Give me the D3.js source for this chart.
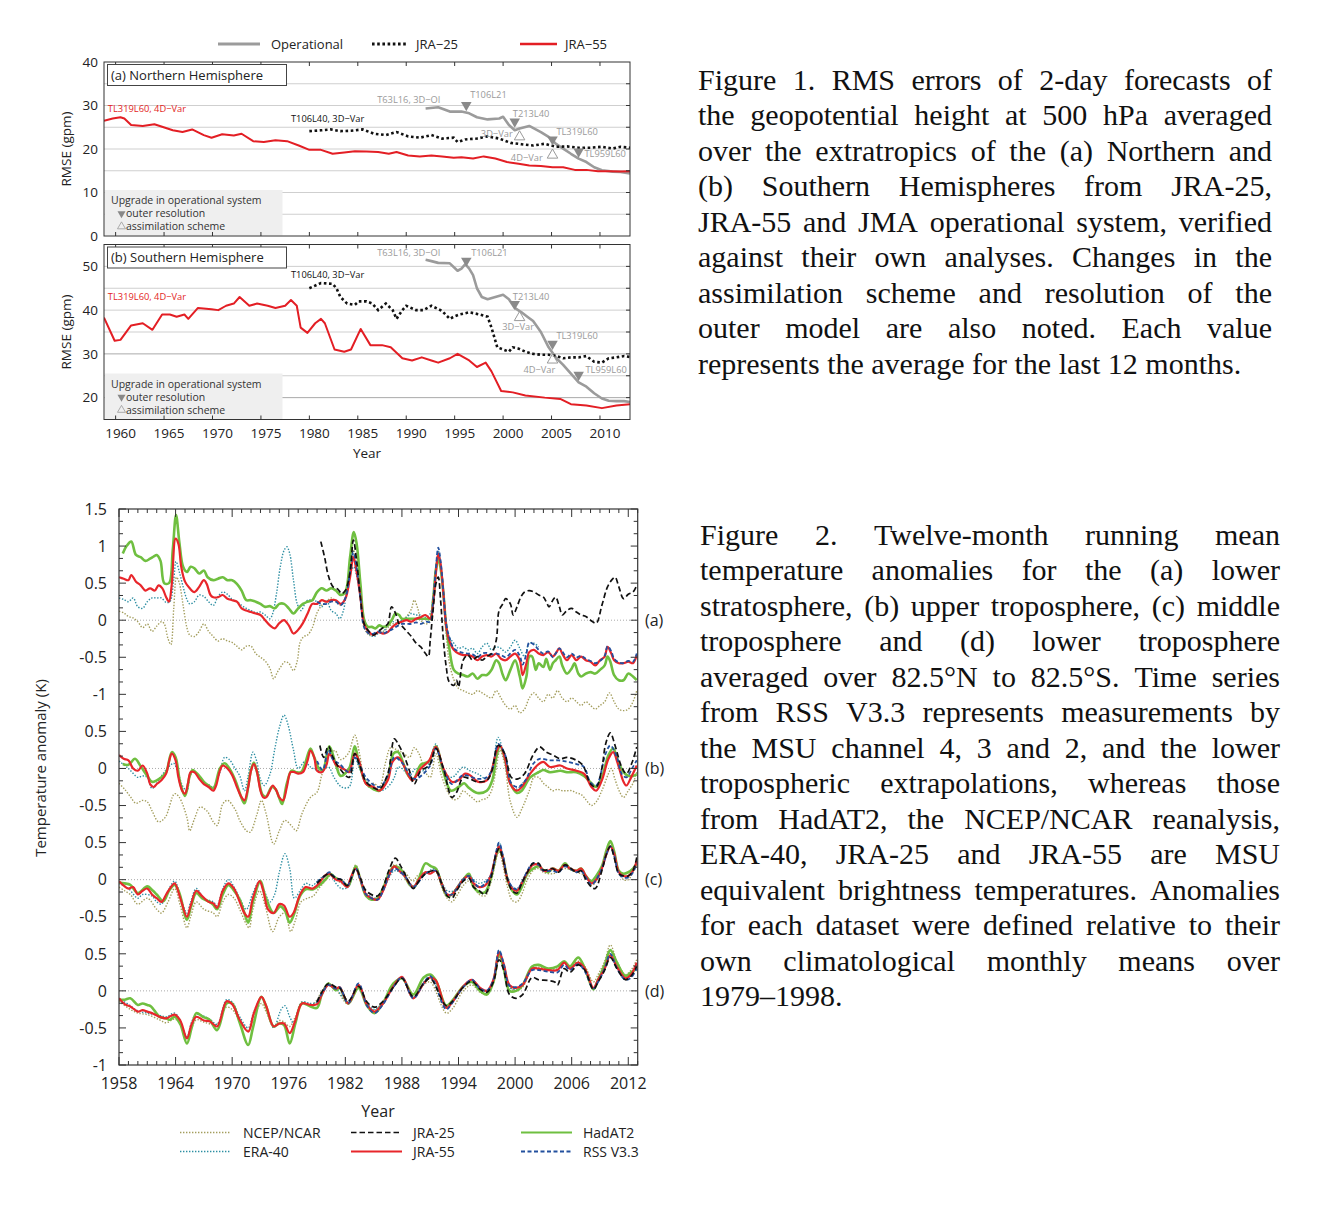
<!DOCTYPE html>
<html><head><meta charset="utf-8">
<script src="https://cdn.jsdelivr.net/npm/d3@7"></script>
<style>body{margin:0;background:#fff}svg{display:block}</style>
</head><body>
<svg id="c" width="1344" height="1208"></svg>
<script>
// ================= FIGURE 1 DATA (year, RMSE gpm) =================
const nh_JRA55 = [[1958.8,26.5],[1959.7,27.0],[1960.5,27.3],[1960.9,27.0],[1961.6,25.5],[1962.8,25.3],[1964.0,25.7],[1964.8,25.1],[1965.9,24.3],[1966.9,23.9],[1967.9,24.5],[1969.1,23.2],[1969.9,22.6],[1971.0,23.4],[1972.2,23.1],[1973.0,23.5],[1974.2,21.8],[1975.3,21.6],[1976.5,22.0],[1977.7,21.8],[1978.9,20.8],[1980.0,19.8],[1981.2,19.8],[1982.4,18.9],[1983.6,19.2],[1984.7,19.5],[1985.9,19.4],[1987.1,19.3],[1988.2,18.9],[1989.0,19.3],[1990.2,18.5],[1991.4,18.3],[1992.6,18.5],[1993.7,18.3],[1994.9,18.0],[1995.7,18.1],[1996.9,17.8],[1998.0,18.3],[1999.2,17.8],[2000.4,17.0],[2001.6,16.6],[2002.7,16.2],[2003.9,16.1],[2005.1,15.8],[2006.2,15.8],[2007.4,15.2],[2008.6,15.2],[2009.8,14.9],[2010.9,14.9],[2012.1,14.8],[2013.1,14.9]];
const nh_JRA25 = [[1980.0,24.1],[1981.2,24.3],[1982.2,24.5],[1983.2,24.1],[1984.3,24.2],[1985.5,24.5],[1986.7,23.5],[1987.9,23.2],[1989.0,23.9],[1990.2,22.9],[1991.4,22.6],[1992.6,23.2],[1993.7,22.4],[1994.9,22.6],[1995.3,21.6],[1996.1,22.2],[1997.3,22.4],[1998.4,22.9],[1999.6,22.4],[2000.8,21.4],[2001.9,21.1],[2003.1,20.8],[2004.3,21.2],[2005.5,20.5],[2006.6,20.6],[2007.8,20.3],[2009.0,20.3],[2010.2,20.5],[2011.3,20.1],[2012.1,20.5],[2013.1,20.3]];
const nh_Oper = [[1992.0,29.3],[1993.3,29.6],[1994.5,28.6],[1995.7,28.6],[1996.5,28.2],[1997.3,27.3],[1998.4,26.8],[1999.6,27.0],[2000.0,27.4],[2000.6,25.5],[2001.2,24.3],[2001.7,24.7],[2002.7,25.3],[2003.9,23.9],[2004.7,22.8],[2005.5,21.1],[2006.2,20.1],[2007.0,18.9],[2007.8,17.8],[2008.6,17.0],[2009.4,15.8],[2010.2,15.1],[2011.3,14.8],[2012.1,14.7],[2013.1,14.4]];
const sh_JRA55 = [[1958.8,38.3],[1959.9,33.0],[1960.5,33.2],[1961.6,36.5],[1962.8,37.0],[1963.8,35.5],[1964.8,39.0],[1965.6,39.0],[1966.3,38.5],[1967.1,39.0],[1967.5,38.0],[1968.5,40.5],[1969.9,40.2],[1970.6,40.0],[1971.4,41.0],[1972.2,41.5],[1972.8,43.0],[1973.8,41.0],[1974.6,41.5],[1975.7,41.0],[1976.5,40.5],[1977.5,41.0],[1978.1,42.3],[1978.7,41.0],[1979.1,36.0],[1979.8,34.8],[1980.6,37.0],[1981.2,38.0],[1981.6,37.0],[1982.6,31.0],[1983.6,30.5],[1984.3,31.0],[1985.3,35.7],[1986.3,32.0],[1987.5,32.0],[1988.4,31.5],[1989.6,29.0],[1990.6,28.5],[1991.6,29.2],[1992.6,28.5],[1993.3,28.0],[1994.5,29.0],[1995.3,30.0],[1996.5,28.5],[1997.3,27.0],[1998.2,28.0],[1998.8,26.0],[1999.8,21.5],[2001.0,21.2],[2002.3,20.5],[2004.3,20.0],[2005.9,19.7],[2007.0,18.5],[2008.6,18.2],[2010.2,17.6],[2011.7,18.2],[2013.1,18.5]];
const sh_JRA25 = [[1980.0,45.0],[1980.8,45.8],[1981.2,46.2],[1982.4,46.0],[1982.8,45.0],[1983.2,43.0],[1983.9,41.5],[1984.7,41.2],[1985.1,42.0],[1985.9,42.0],[1986.5,41.5],[1987.1,40.0],[1987.9,41.5],[1988.6,40.0],[1989.0,38.0],[1989.6,40.0],[1990.0,41.0],[1991.0,40.0],[1991.8,40.0],[1992.2,40.5],[1992.6,41.0],[1993.7,39.8],[1994.5,38.0],[1994.9,38.5],[1995.5,39.0],[1996.5,39.5],[1997.6,39.0],[1998.4,38.5],[1998.8,36.0],[1999.4,31.5],[2000.0,31.0],[2000.6,30.5],[2001.0,31.5],[2001.6,31.2],[2002.3,30.5],[2003.1,30.0],[2003.9,29.8],[2004.7,29.8],[2005.5,29.5],[2006.2,29.0],[2007.0,29.2],[2007.8,29.2],[2008.6,29.5],[2009.4,28.2],[2010.2,28.0],[2010.9,29.0],[2011.7,29.2],[2012.5,29.5],[2013.1,29.3]];
const sh_Oper = [[1992.0,51.5],[1992.6,51.2],[1993.3,50.8],[1994.5,50.7],[1995.3,49.0],[1995.7,49.5],[1996.1,50.5],[1996.5,49.5],[1996.9,48.0],[1997.3,45.0],[1997.8,43.0],[1998.4,42.5],[1999.2,43.0],[2000.0,43.5],[2000.6,42.5],[2001.2,40.5],[2001.9,39.5],[2002.5,38.5],[2003.1,37.5],[2003.9,35.0],[2004.7,31.5],[2005.5,29.0],[2006.2,27.5],[2007.0,25.5],[2007.8,23.5],[2008.6,22.5],[2009.4,21.0],[2010.2,19.8],[2010.9,19.3],[2011.7,19.2],[2012.5,19.2],[2013.1,19.0]];

// annotations: [year, value, text, series]
const ann_NH = [[1959.2,28.4,'TL319L60, 4D\u2212Var','j55'],[1978.1,26.3,'T106L40, 3D\u2212Var','j25'],[1987.0,30.6,'T63L16, 3D\u2212OI','op'],[1996.6,31.7,'T106L21','op'],[2001.0,27.3,'T213L40','op'],[1997.7,22.8,'3D\u2212Var','op'],[2005.5,23.2,'TL319L60','op'],[2000.8,17.3,'4D\u2212Var','op'],[2008.4,18.2,'TL959L60','op']];
const ann_SH = [[1959.2,42.3,'TL319L60, 4D\u2212Var','j55'],[1978.1,47.3,'T106L40, 3D\u2212Var','j25'],[1987.0,52.4,'T63L16, 3D\u2212OI','op'],[1996.7,52.4,'T106L21','op'],[2001.0,42.4,'T213L40','op'],[1999.9,35.5,'3D\u2212Var','op'],[2005.5,33.4,'TL319L60','op'],[2002.1,25.6,'4D\u2212Var','op'],[2008.5,25.6,'TL959L60','op']];
// system upgrade markers: [year, value, kind]
const mk_NH = [[1996.2,30.1,'res'],[2001.2,26.3,'res'],[2001.7,22.8,'scheme'],[2005.1,22.2,'res'],[2005.1,18.6,'scheme'],[2007.8,19.4,'res']];
const mk_SH = [[1996.2,51.3,'res'],[2001.2,41.4,'res'],[2001.7,38.3,'scheme'],[2005.1,32.3,'res'],[2005.1,28.6,'scheme'],[2007.8,25.2,'res']];
const fig1_xTicks = [1960,1965,1970,1975,1980,1985,1990,1995,2000,2005,2010];
const fig1_yTicksA = [0,10,20,30,40];
const fig1_yTicksB = [20,30,40,50];
const fig1_legend = ['Operational','JRA\u221225','JRA\u221255'];

// ================= FIGURE 2 DATA (year, anomaly K) =================
const a_NCEP = [[1958.0,0.12],[1958.5,0.10],[1959.0,0.05],[1959.5,0.03],[1960.0,-0.02],[1960.5,-0.10],[1961.0,-0.05],[1961.5,-0.15],[1962.0,-0.08],[1962.5,-0.02],[1962.8,-0.05],[1963.2,-0.25],[1963.5,-0.33],[1963.8,0.15],[1964.1,0.58],[1964.4,0.50],[1964.8,0.20],[1965.2,-0.10],[1965.5,-0.20],[1966.0,-0.22],[1966.5,-0.15],[1967.0,-0.05],[1967.5,-0.15],[1968.0,-0.22],[1968.5,-0.28],[1969.0,-0.25],[1969.5,-0.28],[1970.0,-0.30],[1970.5,-0.35],[1971.0,-0.40],[1971.5,-0.35],[1972.0,-0.35],[1972.5,-0.45],[1973.0,-0.50],[1973.5,-0.55],[1974.0,-0.65],[1974.4,-0.79],[1974.8,-0.70],[1975.2,-0.62],[1975.6,-0.56],[1976.0,-0.58],[1976.5,-0.68],[1976.9,-0.55],[1977.2,-0.30],[1977.6,-0.22],[1978.0,-0.20],[1978.5,-0.10],[1979.0,0.10],[1979.5,0.20],[1980.0,0.25],[1980.5,0.30],[1981.0,0.25],[1981.5,0.20],[1982.0,0.30],[1982.5,0.60],[1982.85,0.95],[1983.2,0.75],[1983.6,0.30],[1984.0,-0.10],[1984.5,-0.20],[1985.0,-0.20],[1985.5,-0.15],[1986.0,-0.15],[1986.5,-0.10],[1987.0,-0.05],[1987.5,-0.05],[1988.0,0.0],[1988.5,0.05],[1989.0,0.15],[1989.3,0.27],[1989.7,0.15],[1990.0,0.0],[1990.5,-0.05],[1991.0,-0.02],[1991.3,0.20],[1991.6,0.60],[1991.85,0.90],[1992.1,0.75],[1992.4,0.30],[1992.7,-0.20],[1993.0,-0.55],[1993.5,-0.80],[1994.0,-0.92],[1994.5,-0.95],[1995.0,-0.98],[1995.5,-1.00],[1996.0,-0.95],[1996.5,-0.98],[1997.0,-1.02],[1997.5,-1.05],[1998.0,-0.95],[1998.5,-1.05],[1999.0,-1.15],[1999.5,-1.20],[2000.0,-1.15],[2000.5,-1.25],[2001.0,-1.20],[2001.5,-1.05],[2002.0,-0.98],[2002.5,-1.05],[2003.0,-1.10],[2003.5,-1.00],[2004.0,-1.05],[2004.5,-0.95],[2005.0,-1.05],[2005.5,-1.10],[2006.0,-1.05],[2006.5,-1.10],[2007.0,-1.15],[2007.5,-1.10],[2008.0,-1.15],[2008.5,-1.20],[2009.0,-1.15],[2009.5,-1.10],[2010.0,-0.98],[2010.5,-1.10],[2011.0,-1.20],[2011.5,-1.22],[2012.0,-1.20],[2012.5,-1.10],[2012.9,-0.95]];
const a_ERA40 = [[1958.0,0.30],[1958.5,0.28],[1959.0,0.25],[1959.5,0.30],[1960.0,0.18],[1960.5,0.16],[1961.0,0.25],[1961.5,0.30],[1962.0,0.30],[1962.5,0.30],[1963.0,0.24],[1963.4,0.25],[1963.8,0.55],[1964.05,0.79],[1964.4,0.65],[1964.8,0.45],[1965.2,0.28],[1965.5,0.22],[1966.0,0.25],[1966.5,0.34],[1967.0,0.32],[1967.5,0.25],[1968.0,0.20],[1968.5,0.32],[1969.0,0.38],[1969.5,0.35],[1970.0,0.28],[1970.5,0.25],[1971.0,0.20],[1971.5,0.16],[1972.0,0.13],[1972.5,0.10],[1973.0,0.11],[1973.5,0.07],[1974.0,0.02],[1974.3,0.09],[1974.7,0.36],[1975.1,0.72],[1975.5,0.94],[1975.8,0.99],[1976.1,0.90],[1976.5,0.54],[1976.9,0.22],[1977.3,0.13],[1977.7,0.22],[1978.0,0.27],[1978.5,0.27],[1979.0,0.25],[1979.5,0.18],[1980.0,0.27],[1980.5,0.13],[1981.0,0.09],[1981.4,0.02],[1981.8,0.13],[1982.2,0.45],[1982.6,0.65],[1982.9,0.72],[1983.2,0.60],[1983.6,0.31],[1984.0,-0.04],[1984.5,-0.18],[1985.0,-0.22],[1985.5,-0.18],[1986.0,-0.16],[1986.5,-0.07],[1987.0,-0.02],[1987.5,-0.04],[1988.0,0.0],[1988.5,0.04],[1989.0,0.09],[1989.5,0.07],[1990.0,0.07],[1990.5,0.04],[1991.0,0.09],[1991.3,0.31],[1991.6,0.72],[1991.85,0.94],[1992.1,0.76],[1992.4,0.36],[1992.7,-0.04],[1993.0,-0.22],[1993.5,-0.31],[1994.0,-0.38],[1994.5,-0.36],[1995.0,-0.40],[1995.5,-0.38],[1996.0,-0.45],[1996.5,-0.36],[1997.0,-0.31],[1997.5,-0.40],[1998.0,-0.36],[1998.5,-0.38],[1999.0,-0.43],[1999.5,-0.36],[2000.0,-0.27],[2000.5,-0.38],[2001.0,-0.49],[2001.5,-0.31],[2002.0,-0.31],[2002.5,-0.36]];
const a_HadAT2 = [[1958.4,0.90],[1958.8,1.00],[1959.3,1.06],[1959.8,0.88],[1960.3,0.85],[1960.8,0.80],[1961.3,0.83],[1961.7,0.86],[1962.0,0.88],[1962.4,0.80],[1962.8,0.50],[1963.3,0.50],[1963.7,0.95],[1964.05,1.42],[1964.4,1.05],[1964.8,0.72],[1965.2,0.65],[1965.6,0.72],[1966.0,0.70],[1966.5,0.63],[1967.0,0.67],[1967.4,0.58],[1968.0,0.54],[1968.5,0.56],[1969.0,0.58],[1969.5,0.54],[1970.0,0.54],[1970.5,0.49],[1971.0,0.40],[1971.5,0.27],[1972.0,0.27],[1972.5,0.25],[1973.0,0.22],[1973.5,0.18],[1974.0,0.19],[1974.5,0.16],[1975.0,0.22],[1975.5,0.22],[1976.0,0.16],[1976.5,0.09],[1977.0,0.16],[1977.5,0.22],[1978.0,0.25],[1978.5,0.27],[1979.0,0.38],[1979.5,0.43],[1980.0,0.40],[1980.5,0.43],[1981.0,0.40],[1981.5,0.34],[1982.0,0.38],[1982.5,0.85],[1982.9,1.19],[1983.2,1.03],[1983.6,0.49],[1984.0,0.0],[1984.4,-0.09],[1984.8,-0.09],[1985.2,-0.11],[1985.6,-0.07],[1986.0,-0.09],[1986.5,-0.07],[1987.0,0.02],[1987.3,0.09],[1987.7,0.07],[1988.0,0.02],[1988.5,0.02],[1989.0,0.02],[1989.5,0.02],[1990.0,0.02],[1990.5,0.02],[1991.0,0.02],[1991.3,0.27],[1991.6,0.68],[1991.85,0.83],[1992.1,0.70],[1992.4,0.36],[1992.7,-0.09],[1993.0,-0.36],[1993.5,-0.67],[1994.0,-0.72],[1994.5,-0.74],[1995.0,-0.76],[1995.5,-0.72],[1996.0,-0.79],[1996.5,-0.74],[1997.0,-0.74],[1997.5,-0.67],[1998.0,-0.54],[1998.3,-0.58],[1998.7,-0.74],[1999.0,-0.81],[1999.5,-0.67],[2000.0,-0.54],[2000.5,-0.76],[2000.8,-0.92],[2001.2,-0.76],[2001.5,-0.49],[2001.8,-0.49],[2002.2,-0.67],[2002.5,-0.58],[2003.0,-0.63],[2003.3,-0.52],[2003.7,-0.67],[2004.0,-0.58],[2004.3,-0.54],[2004.7,-0.49],[2005.0,-0.61],[2005.5,-0.72],[2006.0,-0.65],[2006.3,-0.58],[2006.7,-0.72],[2007.0,-0.76],[2007.5,-0.72],[2008.0,-0.70],[2008.5,-0.72],[2009.0,-0.67],[2009.5,-0.61],[2009.8,-0.49],[2010.1,-0.56],[2010.5,-0.74],[2011.0,-0.81],[2011.5,-0.81],[2012.0,-0.72],[2012.5,-0.76],[2012.9,-0.81]];
const a_JRA55 = [[1958.0,0.58],[1958.5,0.56],[1959.0,0.54],[1959.3,0.61],[1959.8,0.52],[1960.3,0.47],[1960.8,0.40],[1961.3,0.43],[1961.8,0.40],[1962.2,0.47],[1962.6,0.43],[1963.0,0.31],[1963.3,0.25],[1963.6,0.49],[1964.0,1.10],[1964.3,1.03],[1964.6,0.72],[1965.0,0.52],[1965.5,0.43],[1966.0,0.38],[1966.5,0.45],[1967.0,0.54],[1967.3,0.49],[1967.7,0.34],[1968.0,0.31],[1968.5,0.31],[1969.0,0.34],[1969.5,0.29],[1970.0,0.27],[1970.5,0.25],[1971.0,0.16],[1971.5,0.13],[1972.0,0.11],[1972.5,0.09],[1973.0,0.07],[1973.5,0.0],[1974.0,-0.07],[1974.5,-0.11],[1975.0,-0.04],[1975.5,0.0],[1976.0,-0.07],[1976.5,-0.18],[1977.0,-0.13],[1977.5,-0.04],[1978.0,0.09],[1978.5,0.22],[1979.0,0.22],[1979.5,0.27],[1980.0,0.25],[1980.5,0.27],[1981.0,0.27],[1981.5,0.22],[1982.0,0.29],[1982.5,0.58],[1982.85,0.85],[1983.2,0.65],[1983.6,0.31],[1984.0,-0.06],[1984.5,-0.16],[1985.0,-0.20],[1985.5,-0.16],[1986.0,-0.18],[1986.5,-0.16],[1987.0,-0.09],[1987.5,-0.04],[1988.0,-0.02],[1988.5,0.0],[1989.0,-0.02],[1989.5,0.02],[1990.0,0.04],[1990.5,0.07],[1991.0,0.02],[1991.3,0.22],[1991.6,0.63],[1991.85,0.90],[1992.1,0.76],[1992.4,0.36],[1992.7,-0.09],[1993.0,-0.27],[1993.5,-0.40],[1994.0,-0.45],[1994.5,-0.47],[1995.0,-0.47],[1995.5,-0.49],[1996.0,-0.54],[1996.5,-0.49],[1997.0,-0.47],[1997.5,-0.49],[1998.0,-0.45],[1998.5,-0.52],[1999.0,-0.54],[1999.5,-0.49],[2000.0,-0.45],[2000.5,-0.54],[2000.8,-0.74],[2001.2,-0.58],[2001.5,-0.43],[2002.0,-0.40],[2002.5,-0.45],[2003.0,-0.47],[2003.5,-0.43],[2004.0,-0.49],[2004.3,-0.45],[2004.7,-0.38],[2005.0,-0.45],[2005.5,-0.54],[2006.0,-0.47],[2006.5,-0.54],[2007.0,-0.49],[2007.5,-0.54],[2008.0,-0.56],[2008.5,-0.61],[2009.0,-0.54],[2009.5,-0.49],[2009.8,-0.36],[2010.2,-0.45],[2010.5,-0.54],[2011.0,-0.58],[2011.5,-0.58],[2012.0,-0.56],[2012.5,-0.58],[2012.9,-0.47]];
const a_RSS = [[1979.0,0.25],[1979.5,0.22],[1980.0,0.22],[1980.5,0.25],[1981.0,0.25],[1981.5,0.20],[1982.0,0.30],[1982.5,0.65],[1982.85,0.92],[1983.2,0.70],[1983.6,0.30],[1984.0,-0.10],[1984.5,-0.18],[1985.0,-0.18],[1985.5,-0.15],[1986.0,-0.18],[1986.5,-0.15],[1987.0,-0.12],[1987.5,-0.08],[1988.0,-0.05],[1988.5,-0.05],[1989.0,-0.05],[1989.5,-0.03],[1990.0,-0.05],[1990.5,-0.02],[1991.0,-0.02],[1991.3,0.25],[1991.6,0.70],[1991.85,0.98],[1992.1,0.80],[1992.4,0.38],[1992.7,-0.05],[1993.0,-0.22],[1993.5,-0.38],[1994.0,-0.42],[1994.5,-0.44],[1995.0,-0.45],[1995.5,-0.46],[1996.0,-0.50],[1996.5,-0.45],[1997.0,-0.44],[1997.5,-0.46],[1998.0,-0.45],[1998.5,-0.47],[1999.0,-0.50],[1999.5,-0.45],[2000.0,-0.40],[2000.5,-0.48],[2000.8,-0.60],[2001.2,-0.45],[2001.5,-0.30],[2002.0,-0.33],[2002.5,-0.40],[2003.0,-0.45],[2003.5,-0.42],[2004.0,-0.50],[2004.3,-0.45],[2004.7,-0.38],[2005.0,-0.42],[2005.5,-0.50],[2006.0,-0.45],[2006.5,-0.50],[2007.0,-0.48],[2007.5,-0.52],[2008.0,-0.55],[2008.5,-0.58],[2009.0,-0.55],[2009.5,-0.48],[2009.8,-0.35],[2010.2,-0.42],[2010.5,-0.52],[2011.0,-0.57],[2011.5,-0.58],[2012.0,-0.55],[2012.5,-0.56],[2012.9,-0.45]];
const a_JRA25 = [[1979.4,1.06],[1979.8,0.85],[1980.2,0.60],[1980.7,0.45],[1981.2,0.42],[1981.6,0.36],[1982.0,0.40],[1982.5,0.65],[1982.85,1.08],[1983.2,0.80],[1983.6,0.30],[1984.0,-0.05],[1984.5,-0.15],[1985.0,-0.20],[1985.5,-0.15],[1986.0,-0.10],[1986.5,-0.05],[1986.9,0.18],[1987.3,0.10],[1987.7,-0.05],[1988.0,-0.08],[1988.5,-0.15],[1989.0,-0.22],[1989.5,-0.31],[1990.0,-0.36],[1990.5,-0.45],[1990.8,-0.49],[1991.0,-0.27],[1991.3,0.13],[1991.6,0.49],[1991.85,0.58],[1992.1,0.27],[1992.4,-0.27],[1992.7,-0.63],[1993.0,-0.83],[1993.5,-0.88],[1993.8,-0.81],[1994.0,-0.90],[1994.5,-0.54],[1995.0,-0.47],[1995.5,-0.54],[1996.0,-0.49],[1996.5,-0.54],[1997.0,-0.49],[1997.5,-0.45],[1998.0,-0.27],[1998.3,0.13],[1998.7,0.22],[1999.0,0.29],[1999.5,0.22],[1999.8,0.07],[2000.2,0.18],[2000.6,0.31],[2001.0,0.38],[2001.5,0.40],[2002.0,0.38],[2002.5,0.34],[2003.0,0.31],[2003.3,0.25],[2003.6,0.18],[2004.0,0.27],[2004.3,0.31],[2004.7,0.18],[2005.0,0.07],[2005.5,0.13],[2006.0,0.16],[2006.5,0.11],[2007.0,0.07],[2007.5,0.05],[2008.0,0.0],[2008.6,-0.04],[2009.2,0.20],[2009.8,0.45],[2010.3,0.55],[2010.6,0.58],[2011.0,0.45],[2011.5,0.29],[2012.0,0.35],[2012.5,0.38],[2012.9,0.47]];

const b_NCEP = [[1958.0,-0.20],[1958.6,-0.28],[1959.2,-0.38],[1959.8,-0.47],[1960.5,-0.43],[1961.0,-0.45],[1961.5,-0.57],[1962.2,-0.72],[1962.9,-0.66],[1963.9,-0.34],[1964.4,-0.39],[1965.2,-0.66],[1965.5,-0.84],[1966.0,-0.68],[1966.6,-0.52],[1967.3,-0.57],[1968.0,-0.72],[1968.4,-0.77],[1969.0,-0.48],[1969.5,-0.43],[1970.3,-0.55],[1970.8,-0.70],[1971.5,-0.84],[1971.9,-0.86],[1972.6,-0.63],[1973.1,-0.43],[1973.6,-0.61],[1974.4,-1.02],[1975.0,-0.84],[1975.6,-0.70],[1976.4,-0.79],[1976.8,-0.84],[1977.4,-0.61],[1978.3,-0.39],[1979.0,-0.32],[1979.5,-0.09],[1980.2,0.15],[1980.9,0.24],[1981.5,0.12],[1982.3,0.20],[1983.0,0.45],[1983.5,0.20],[1984.0,-0.15],[1984.5,-0.25],[1985.0,-0.20],[1985.6,-0.25],[1986.3,0.10],[1986.8,0.28],[1987.5,0.25],[1988.2,0.20],[1988.8,0.15],[1989.3,0.28],[1989.8,0.20],[1990.5,-0.05],[1991.0,-0.12],[1991.6,0.20],[1992.2,-0.10],[1993.0,-0.35],[1993.5,-0.42],[1994.0,-0.40],[1994.5,-0.30],[1995.0,-0.35],[1995.5,-0.40],[1996.0,-0.45],[1996.5,-0.42],[1997.0,-0.40],[1997.5,-0.30],[1998.0,0.0],[1998.4,0.25],[1998.9,0.05],[1999.5,-0.45],[2000.2,-0.66],[2000.7,-0.55],[2001.5,-0.30],[2002.0,-0.12],[2002.5,-0.12],[2003.0,-0.20],[2003.5,-0.25],[2004.0,-0.30],[2004.5,-0.28],[2005.0,-0.30],[2005.5,-0.30],[2006.0,-0.30],[2006.5,-0.33],[2007.0,-0.35],[2007.5,-0.42],[2008.1,-0.50],[2008.6,-0.45],[2009.2,-0.30],[2009.9,-0.07],[2010.2,0.0],[2010.6,-0.15],[2011.1,-0.32],[2011.5,-0.39],[2012.0,-0.30],[2012.5,-0.20],[2012.9,-0.05]];
const b_ERA40 = [[1958.0,0.10],[1959.0,0.0],[1960.0,-0.12],[1960.5,-0.10],[1961.0,-0.12],[1961.5,-0.27],[1962.0,-0.20],[1962.5,-0.10],[1963.0,-0.02],[1963.5,0.05],[1963.8,0.07],[1964.3,-0.08],[1964.8,-0.25],[1965.2,-0.30],[1965.6,-0.08],[1966.0,-0.05],[1966.5,-0.12],[1967.0,-0.20],[1967.5,-0.22],[1968.0,-0.25],[1968.7,-0.05],[1969.2,0.15],[1969.7,0.12],[1970.3,0.0],[1970.8,-0.10],[1971.3,-0.30],[1971.7,-0.10],[1972.2,0.22],[1972.6,0.10],[1973.0,-0.15],[1973.4,-0.23],[1974.0,-0.08],[1974.5,0.25],[1975.0,0.55],[1975.5,0.72],[1975.9,0.60],[1976.5,0.25],[1977.0,0.0],[1977.7,0.09],[1978.3,0.02],[1979.3,-0.03],[1980.2,0.02],[1980.8,-0.12],[1981.6,-0.25],[1982.4,-0.25],[1983.0,0.15],[1983.5,0.0],[1984.2,-0.16],[1985.6,-0.30],[1986.5,-0.25],[1987.2,-0.12],[1987.6,0.02],[1988.0,0.0],[1988.8,-0.09],[1989.5,0.0],[1990.3,-0.03],[1990.9,0.08],[1991.6,0.33],[1992.4,-0.03],[1993.3,-0.12],[1994.5,0.02],[1995.2,-0.03],[1996.0,-0.07],[1997.0,-0.14],[1997.6,0.02],[1998.2,0.42],[1998.7,0.24],[1999.5,-0.21],[2000.1,-0.28],[2001.1,-0.16],[2001.9,-0.09],[2002.6,-0.05]];
const b_HadAT2 = [[1958.4,0.06],[1959.0,0.05],[1959.7,0.13],[1960.3,0.03],[1961.0,-0.10],[1961.5,-0.18],[1962.0,-0.16],[1962.5,-0.12],[1963.0,-0.05],[1963.6,0.22],[1964.0,0.15],[1964.5,-0.20],[1965.0,-0.37],[1965.5,-0.10],[1965.8,-0.02],[1966.5,-0.10],[1967.0,-0.18],[1967.5,-0.23],[1968.0,-0.27],[1968.7,0.0],[1969.2,0.07],[1969.7,0.0],[1970.3,-0.15],[1971.0,-0.40],[1971.3,-0.47],[1972.0,-0.02],[1972.3,0.08],[1972.7,-0.08],[1973.2,-0.35],[1973.6,-0.38],[1974.2,-0.25],[1974.6,-0.28],[1975.0,-0.40],[1975.3,-0.48],[1975.8,-0.20],[1976.3,-0.03],[1976.8,-0.05],[1977.3,-0.05],[1977.7,0.05],[1978.3,0.27],[1978.7,0.15],[1979.2,0.0],[1979.6,-0.03],[1980.3,0.30],[1981.0,0.05],[1981.5,-0.10],[1982.4,0.0],[1983.0,0.30],[1983.4,0.10],[1984.2,-0.20],[1985.0,-0.28],[1985.6,-0.30],[1986.5,-0.12],[1987.1,0.20],[1987.6,0.22],[1988.2,0.05],[1988.7,-0.10],[1989.2,-0.15],[1990.0,0.05],[1990.9,0.10],[1991.6,0.30],[1992.4,-0.05],[1993.2,-0.30],[1994.0,-0.25],[1994.6,-0.20],[1995.0,-0.25],[1996.0,-0.33],[1997.0,-0.30],[1997.6,-0.15],[1998.0,0.15],[1998.4,0.30],[1998.9,0.15],[1999.5,-0.20],[2000.2,-0.33],[2000.7,-0.30],[2001.6,-0.12],[2002.5,-0.05],[2003.0,-0.02],[2003.7,-0.05],[2004.8,-0.03],[2005.5,-0.05],[2006.5,-0.05],[2007.3,-0.10],[2008.1,-0.20],[2008.6,-0.25],[2009.2,-0.12],[2009.9,0.18],[2010.4,0.27],[2010.9,0.10],[2011.5,-0.05],[2012.0,-0.10],[2012.5,-0.10],[2012.9,-0.08]];
const b_JRA55 = [[1958.0,0.18],[1958.5,0.13],[1959.0,0.11],[1959.5,0.0],[1960.0,-0.03],[1960.5,0.04],[1961.0,-0.07],[1961.3,-0.21],[1961.7,-0.25],[1962.0,-0.21],[1962.5,-0.16],[1963.0,-0.07],[1963.3,0.09],[1963.6,0.20],[1964.0,0.11],[1964.3,-0.12],[1964.7,-0.30],[1965.0,-0.34],[1965.3,-0.21],[1965.6,-0.05],[1966.0,-0.05],[1966.5,-0.14],[1967.0,-0.21],[1967.5,-0.25],[1968.0,-0.30],[1968.3,-0.23],[1968.7,-0.03],[1969.0,0.04],[1969.5,0.0],[1970.0,-0.09],[1970.5,-0.25],[1971.0,-0.39],[1971.3,-0.43],[1971.7,-0.25],[1972.0,-0.03],[1972.3,0.06],[1972.6,-0.03],[1973.0,-0.30],[1973.3,-0.39],[1973.6,-0.39],[1974.0,-0.30],[1974.3,-0.23],[1974.7,-0.30],[1975.0,-0.39],[1975.4,-0.43],[1975.8,-0.25],[1976.2,-0.05],[1976.6,-0.05],[1977.0,-0.07],[1977.5,-0.05],[1978.0,0.11],[1978.3,0.24],[1978.7,0.15],[1979.0,-0.03],[1979.5,-0.05],[1980.0,0.05],[1980.3,0.20],[1980.6,0.15],[1981.0,0.05],[1981.4,0.02],[1982.0,-0.02],[1982.4,-0.05],[1983.0,0.20],[1983.4,0.12],[1984.2,-0.21],[1985.0,-0.25],[1985.6,-0.30],[1986.5,-0.16],[1987.0,0.09],[1987.6,0.15],[1988.0,0.09],[1988.6,-0.07],[1989.1,-0.16],[1990.0,0.0],[1990.9,0.11],[1991.6,0.29],[1992.4,0.0],[1993.3,-0.18],[1994.0,-0.16],[1994.7,-0.07],[1995.2,-0.09],[1996.1,-0.18],[1997.0,-0.16],[1997.5,-0.03],[1998.0,0.22],[1998.4,0.31],[1998.9,0.15],[1999.5,-0.21],[2000.2,-0.30],[2000.7,-0.25],[2001.6,-0.07],[2002.5,0.06],[2003.0,0.09],[2003.7,0.02],[2004.8,0.04],[2005.5,0.0],[2006.5,-0.03],[2007.3,-0.07],[2008.1,-0.25],[2008.6,-0.30],[2009.2,-0.16],[2009.9,0.13],[2010.4,0.22],[2010.9,0.06],[2011.5,-0.18],[2011.8,-0.23],[2012.3,-0.12],[2012.9,0.04]];
const b_RSS = [[1979.0,0.10],[1979.6,-0.02],[1980.2,0.25],[1980.7,0.12],[1981.4,0.06],[1982.4,-0.05],[1983.0,0.15],[1983.5,0.05],[1984.3,-0.14],[1985.6,-0.25],[1986.5,-0.10],[1987.2,0.15],[1988.0,0.08],[1989.3,-0.14],[1990.9,0.02],[1991.6,0.27],[1992.4,0.0],[1993.3,-0.21],[1994.5,-0.09],[1996.0,-0.14],[1997.0,-0.12],[1997.6,0.0],[1998.2,0.33],[1998.9,0.20],[1999.6,-0.20],[2000.3,-0.25],[2001.1,-0.16],[2001.9,0.06],[2002.6,0.13],[2003.6,0.11],[2004.6,0.11],[2005.5,0.09],[2006.5,0.06],[2007.3,0.02],[2008.0,-0.19],[2008.6,-0.23],[2009.6,0.20],[2010.1,0.31],[2010.8,0.15],[2011.3,-0.07],[2011.8,-0.12],[2012.4,0.0],[2012.9,0.11]];
const b_JRA25 = [[1979.3,0.31],[1979.7,0.15],[1980.2,0.30],[1980.7,0.15],[1981.4,0.0],[1982.4,-0.12],[1983.0,0.20],[1983.5,0.05],[1984.2,-0.18],[1985.0,-0.26],[1985.6,-0.28],[1986.5,-0.07],[1987.2,0.40],[1987.6,0.33],[1988.2,0.18],[1988.8,-0.03],[1989.3,-0.21],[1990.0,-0.03],[1990.9,0.04],[1991.6,0.27],[1992.4,0.0],[1993.3,-0.39],[1993.8,-0.32],[1994.5,-0.12],[1995.2,-0.14],[1996.0,-0.18],[1997.0,-0.16],[1997.5,-0.05],[1998.2,0.31],[1998.9,0.20],[1999.6,-0.12],[2000.3,-0.14],[2001.0,-0.07],[2001.9,0.18],[2002.6,0.29],[2003.3,0.22],[2004.0,0.18],[2004.8,0.13],[2005.5,0.15],[2006.5,0.11],[2007.2,0.04],[2008.0,-0.21],[2008.6,-0.25],[2009.2,0.0],[2009.6,0.33],[2010.1,0.48],[2010.6,0.31],[2011.3,0.02],[2011.8,-0.07],[2012.4,0.08],[2012.9,0.29]];

const c_NCEP = [[1958.0,-0.10],[1958.6,-0.15],[1959.2,-0.20],[1960.0,-0.33],[1961.0,-0.25],[1962.0,-0.40],[1962.5,-0.45],[1963.2,-0.30],[1963.9,-0.12],[1964.5,-0.35],[1965.2,-0.65],[1965.6,-0.50],[1966.2,-0.30],[1967.0,-0.40],[1968.0,-0.45],[1968.4,-0.50],[1969.0,-0.30],[1969.6,-0.20],[1970.2,-0.25],[1970.8,-0.40],[1971.5,-0.60],[1971.8,-0.65],[1972.2,-0.40],[1972.9,-0.15],[1973.5,-0.35],[1974.3,-0.70],[1975.0,-0.50],[1975.6,-0.45],[1976.2,-0.70],[1976.7,-0.55],[1977.3,-0.30],[1978.0,-0.25],[1978.6,-0.22],[1979.3,-0.10],[1980.0,0.0],[1980.4,0.05],[1981.0,0.0],[1981.6,-0.05],[1982.3,-0.10],[1983.1,0.20],[1983.6,0.0],[1984.2,-0.20],[1985.4,-0.27],[1986.0,-0.12],[1986.6,0.08],[1987.2,0.20],[1988.3,0.10],[1989.2,-0.02],[1989.6,0.05],[1990.5,0.10],[1991.6,0.10],[1992.2,-0.10],[1992.8,-0.25],[1993.3,-0.30],[1993.8,-0.22],[1994.5,-0.08],[1995.1,-0.02],[1996.2,-0.20],[1996.8,-0.22],[1997.4,-0.05],[1998.3,0.38],[1998.7,0.20],[1999.2,-0.10],[1999.7,-0.28],[2000.2,-0.30],[2000.7,-0.20],[2001.3,0.0],[2001.9,0.12],[2002.5,0.15],[2003.0,0.10],[2004.0,0.08],[2005.3,0.15],[2006.5,0.10],[2007.5,0.05],[2008.1,-0.08],[2008.6,-0.02],[2009.2,0.15],[2010.1,0.50],[2010.5,0.38],[2011.0,0.10],[2011.5,0.0],[2012.0,0.0],[2012.5,0.10],[2012.9,0.20]];
const c_ERA40 = [[1958.0,-0.05],[1959.0,-0.12],[1960.0,-0.25],[1960.5,-0.20],[1961.5,-0.22],[1962.0,-0.30],[1962.5,-0.33],[1963.0,-0.20],[1963.9,-0.02],[1964.5,-0.22],[1965.2,-0.45],[1965.6,-0.30],[1966.2,-0.12],[1967.0,-0.25],[1968.0,-0.30],[1968.4,-0.35],[1969.0,-0.12],[1969.6,0.0],[1970.2,-0.10],[1970.8,-0.25],[1971.5,-0.40],[1972.2,-0.18],[1972.9,-0.02],[1973.4,-0.15],[1974.0,-0.30],[1974.5,-0.20],[1975.0,0.10],[1975.6,0.35],[1976.1,0.15],[1976.6,-0.25],[1977.2,-0.15],[1977.8,-0.05],[1978.5,-0.08],[1979.2,0.0],[1980.3,0.08],[1981.0,-0.05],[1981.6,-0.12],[1982.3,-0.10],[1983.1,0.15],[1983.6,0.0],[1984.2,-0.18],[1985.4,-0.25],[1986.0,-0.15],[1986.6,0.02],[1987.2,0.12],[1988.3,0.05],[1989.2,-0.08],[1990.5,0.08],[1991.6,0.15],[1992.2,-0.02],[1992.8,-0.15],[1993.5,-0.15],[1994.5,0.02],[1995.1,0.05],[1996.2,-0.05],[1997.4,0.05],[1998.3,0.50],[1998.7,0.32],[1999.4,-0.05],[2000.2,-0.12],[2001.0,0.05],[2001.9,0.15],[2002.6,0.18]];
const c_HadAT2 = [[1958.0,-0.04],[1958.6,-0.05],[1959.2,-0.07],[1960.0,-0.18],[1961.0,-0.09],[1961.6,-0.15],[1962.0,-0.20],[1962.7,-0.29],[1963.3,-0.15],[1963.9,-0.07],[1964.4,-0.18],[1965.2,-0.54],[1965.6,-0.38],[1966.2,-0.18],[1966.8,-0.25],[1967.6,-0.30],[1968.0,-0.34],[1968.4,-0.40],[1969.0,-0.20],[1969.6,-0.07],[1970.1,-0.13],[1970.8,-0.27],[1971.3,-0.45],[1971.7,-0.58],[1972.2,-0.30],[1973.0,-0.02],[1973.5,-0.22],[1974.4,-0.45],[1975.1,-0.36],[1975.6,-0.42],[1976.1,-0.58],[1976.6,-0.45],[1977.2,-0.22],[1977.8,-0.13],[1978.6,-0.13],[1979.3,-0.07],[1980.0,0.02],[1980.4,0.08],[1981.0,0.02],[1981.6,-0.02],[1982.3,-0.08],[1982.6,0.0],[1983.1,0.18],[1983.6,0.0],[1984.2,-0.22],[1984.8,-0.27],[1985.4,-0.25],[1986.0,-0.12],[1986.6,0.08],[1987.2,0.18],[1987.8,0.15],[1988.3,0.05],[1988.9,-0.08],[1989.3,-0.10],[1989.9,0.05],[1990.5,0.22],[1991.1,0.18],[1991.6,0.15],[1992.2,-0.05],[1992.8,-0.22],[1993.3,-0.20],[1993.8,-0.12],[1994.5,0.0],[1995.1,0.08],[1995.6,-0.10],[1996.2,-0.17],[1996.8,-0.17],[1997.4,0.0],[1998.0,0.33],[1998.3,0.42],[1998.7,0.30],[1999.2,0.0],[1999.7,-0.15],[2000.2,-0.20],[2000.7,-0.10],[2001.3,0.08],[2001.9,0.15],[2002.5,0.18],[2003.0,0.13],[2003.5,0.10],[2004.0,0.15],[2004.6,0.12],[2005.3,0.22],[2005.8,0.15],[2006.5,0.12],[2007.0,0.15],[2007.5,0.05],[2008.1,-0.02],[2008.6,0.05],[2009.2,0.18],[2009.7,0.40],[2010.1,0.52],[2010.5,0.38],[2011.0,0.12],[2011.5,0.08],[2012.0,0.10],[2012.5,0.15],[2012.9,0.22]];
const c_JRA55 = [[1958.0,-0.02],[1958.5,-0.08],[1959.0,-0.12],[1959.5,-0.10],[1960.0,-0.20],[1960.5,-0.15],[1961.0,-0.12],[1961.5,-0.20],[1962.0,-0.25],[1962.5,-0.30],[1963.0,-0.20],[1963.5,-0.10],[1963.9,-0.05],[1964.5,-0.25],[1965.2,-0.50],[1965.6,-0.35],[1966.2,-0.15],[1966.8,-0.22],[1967.5,-0.30],[1968.0,-0.32],[1968.4,-0.38],[1969.0,-0.15],[1969.6,-0.05],[1970.2,-0.12],[1970.8,-0.30],[1971.3,-0.45],[1971.7,-0.50],[1972.2,-0.25],[1972.9,-0.02],[1973.3,-0.15],[1973.8,-0.40],[1974.4,-0.45],[1975.0,-0.33],[1975.5,-0.35],[1976.1,-0.50],[1976.5,-0.45],[1977.2,-0.20],[1977.8,-0.10],[1978.5,-0.12],[1979.2,-0.05],[1979.8,0.05],[1980.3,0.08],[1981.0,0.0],[1981.5,-0.02],[1982.2,-0.10],[1982.5,0.0],[1983.1,0.15],[1983.6,0.0],[1984.2,-0.20],[1984.8,-0.25],[1985.4,-0.27],[1986.0,-0.15],[1986.6,0.05],[1987.2,0.18],[1987.7,0.12],[1988.3,0.05],[1988.8,-0.05],[1989.2,-0.10],[1989.8,0.0],[1990.5,0.10],[1991.0,0.08],[1991.6,0.12],[1992.2,-0.05],[1992.8,-0.20],[1993.3,-0.20],[1993.8,-0.12],[1994.5,0.0],[1995.1,0.05],[1995.6,-0.05],[1996.2,-0.10],[1996.8,-0.08],[1997.4,0.05],[1998.0,0.35],[1998.3,0.45],[1998.7,0.30],[1999.2,0.0],[1999.7,-0.12],[2000.2,-0.15],[2000.7,-0.05],[2001.3,0.10],[2001.9,0.20],[2002.5,0.20],[2003.0,0.12],[2003.5,0.12],[2004.0,0.15],[2004.6,0.12],[2005.3,0.20],[2005.8,0.15],[2006.5,0.12],[2007.0,0.15],[2007.5,0.05],[2008.1,-0.05],[2008.6,0.0],[2009.2,0.15],[2009.7,0.35],[2010.1,0.45],[2010.5,0.35],[2011.0,0.10],[2011.5,0.05],[2012.0,0.05],[2012.5,0.12],[2012.9,0.25]];
const c_RSS = [[1979.0,-0.03],[1979.8,0.05],[1980.3,0.10],[1981.0,0.02],[1981.6,0.0],[1982.2,-0.08],[1983.1,0.15],[1983.6,0.0],[1984.2,-0.20],[1985.4,-0.27],[1986.0,-0.15],[1986.6,0.05],[1987.2,0.15],[1988.3,0.05],[1989.2,-0.10],[1990.5,0.08],[1991.6,0.12],[1992.2,-0.05],[1992.8,-0.20],[1993.3,-0.20],[1994.5,0.0],[1995.1,0.05],[1996.2,-0.10],[1997.4,0.05],[1998.0,0.38],[1998.3,0.50],[1998.7,0.33],[1999.2,0.02],[1999.7,-0.10],[2000.2,-0.13],[2000.7,-0.05],[2001.3,0.12],[2001.9,0.22],[2002.5,0.20],[2003.0,0.12],[2004.0,0.12],[2004.6,0.10],[2005.3,0.18],[2006.5,0.10],[2007.0,0.12],[2007.5,0.03],[2008.1,-0.07],[2008.6,0.0],[2009.2,0.15],[2009.7,0.35],[2010.1,0.45],[2010.5,0.33],[2011.0,0.08],[2011.5,0.03],[2012.0,0.03],[2012.5,0.10],[2012.9,0.22]];
const c_JRA25 = [[1979.0,-0.05],[1979.8,0.05],[1980.3,0.08],[1981.0,0.02],[1981.6,0.0],[1982.2,-0.08],[1983.1,0.15],[1983.6,0.02],[1984.2,-0.15],[1985.4,-0.22],[1986.0,-0.10],[1986.6,0.12],[1987.3,0.29],[1987.8,0.20],[1988.3,0.08],[1988.8,-0.05],[1989.2,-0.12],[1989.8,-0.02],[1990.5,0.08],[1991.6,0.12],[1992.2,-0.05],[1992.8,-0.22],[1993.3,-0.25],[1993.8,-0.15],[1994.5,-0.02],[1995.1,0.02],[1995.6,-0.10],[1996.2,-0.15],[1996.8,-0.20],[1997.4,0.0],[1998.0,0.35],[1998.3,0.42],[1998.7,0.28],[1999.2,0.0],[1999.7,-0.15],[2000.2,-0.18],[2000.7,-0.05],[2001.3,0.10],[2001.9,0.22],[2002.5,0.22],[2003.0,0.13],[2004.0,0.15],[2004.6,0.10],[2005.3,0.20],[2006.5,0.10],[2007.0,0.12],[2007.5,0.0],[2008.1,-0.10],[2008.5,-0.12],[2009.2,0.12],[2009.7,0.35],[2010.1,0.45],[2010.5,0.30],[2011.0,0.08],[2011.5,0.05],[2012.0,0.05],[2012.5,0.12],[2012.9,0.30]];

const d_NCEP = [[1958.0,-0.14],[1959.2,-0.25],[1960.0,-0.30],[1961.0,-0.32],[1962.3,-0.39],[1963.0,-0.43],[1963.9,-0.38],[1964.5,-0.45],[1965.2,-0.62],[1965.7,-0.50],[1966.2,-0.39],[1967.0,-0.42],[1968.4,-0.45],[1969.4,-0.22],[1970.0,-0.25],[1970.8,-0.40],[1971.7,-0.53],[1972.3,-0.35],[1973.1,-0.17],[1973.6,-0.28],[1974.4,-0.48],[1975.0,-0.40],[1975.5,-0.42],[1976.1,-0.48],[1976.7,-0.35],[1977.4,-0.15],[1978.3,-0.20],[1979.0,-0.12],[1979.5,0.0],[1980.2,0.07],[1981.0,0.02],[1982.3,-0.18],[1983.4,0.05],[1984.3,-0.20],[1985.1,-0.26],[1986.0,-0.15],[1987.1,0.06],[1988.0,0.16],[1989.2,-0.10],[1990.3,0.08],[1991.0,0.12],[1992.7,-0.30],[1993.3,-0.25],[1994.5,0.0],[1995.4,0.08],[1996.3,-0.02],[1997.0,-0.05],[1997.7,0.12],[1998.3,0.45],[1998.8,0.30],[1999.4,0.05],[2000.1,0.0],[2000.8,0.05],[2001.8,0.30],[2002.5,0.32],[2003.5,0.30],[2004.5,0.30],[2005.2,0.38],[2005.8,0.33],[2006.7,0.40],[2007.4,0.33],[2008.3,0.12],[2008.8,0.22],[2009.5,0.40],[2010.1,0.62],[2010.8,0.40],[2011.7,0.22],[2012.3,0.28],[2012.9,0.42]];
const d_ERA40 = [[1958.0,-0.10],[1959.2,-0.20],[1960.0,-0.27],[1961.0,-0.30],[1962.3,-0.33],[1963.0,-0.35],[1963.9,-0.30],[1964.5,-0.40],[1965.2,-0.62],[1965.7,-0.42],[1966.2,-0.32],[1967.6,-0.38],[1968.4,-0.45],[1969.4,-0.12],[1970.0,-0.15],[1970.8,-0.35],[1971.7,-0.50],[1972.3,-0.28],[1973.1,-0.10],[1973.8,-0.30],[1974.4,-0.50],[1975.2,-0.25],[1975.6,-0.20],[1976.1,-0.35],[1976.6,-0.45],[1977.4,-0.15],[1978.3,-0.17],[1979.0,-0.15],[1979.5,-0.02],[1980.2,0.08],[1981.0,0.03],[1982.3,-0.15],[1983.4,0.08],[1984.3,-0.17],[1985.1,-0.25],[1986.0,-0.15],[1987.1,0.05],[1988.0,0.17],[1989.2,-0.08],[1990.3,0.12],[1991.0,0.18],[1992.7,-0.20],[1993.3,-0.15],[1994.5,0.05],[1995.4,0.13],[1996.3,0.02],[1997.0,0.0],[1997.7,0.15],[1998.3,0.55],[1998.8,0.35],[1999.4,0.05],[2000.1,0.02],[2000.8,0.08],[2001.8,0.30],[2002.6,0.30]];
const d_HadAT2 = [[1958.0,-0.12],[1958.6,-0.12],[1959.2,-0.10],[1960.0,-0.19],[1960.5,-0.17],[1961.0,-0.19],[1961.4,-0.21],[1962.3,-0.35],[1963.0,-0.37],[1963.4,-0.39],[1963.9,-0.35],[1964.5,-0.45],[1965.2,-0.71],[1965.7,-0.50],[1966.2,-0.30],[1966.9,-0.35],[1967.6,-0.39],[1968.4,-0.53],[1969.4,-0.17],[1970.0,-0.17],[1970.8,-0.43],[1971.7,-0.73],[1972.2,-0.50],[1973.1,-0.08],[1973.6,-0.21],[1974.4,-0.48],[1975.0,-0.44],[1975.5,-0.46],[1976.1,-0.71],[1976.7,-0.44],[1977.4,-0.17],[1978.3,-0.21],[1979.0,-0.23],[1979.5,-0.05],[1980.2,0.10],[1981.0,0.01],[1981.4,0.04],[1982.3,-0.17],[1983.4,0.04],[1984.3,-0.20],[1985.1,-0.30],[1986.0,-0.16],[1987.1,0.10],[1988.0,0.17],[1989.2,-0.05],[1990.3,0.18],[1991.0,0.22],[1991.6,0.14],[1992.7,-0.20],[1993.3,-0.14],[1994.5,0.06],[1995.4,0.12],[1996.3,0.0],[1997.0,-0.05],[1997.7,0.12],[1998.3,0.50],[1998.8,0.30],[1999.4,0.0],[2000.1,0.0],[2000.8,0.08],[2001.8,0.33],[2002.5,0.35],[2003.5,0.30],[2004.5,0.33],[2005.2,0.40],[2005.8,0.33],[2006.7,0.45],[2007.4,0.30],[2008.3,0.02],[2008.8,0.15],[2009.5,0.35],[2010.1,0.55],[2010.8,0.38],[2011.7,0.20],[2012.3,0.25],[2012.9,0.30]];
const d_JRA55 = [[1958.0,-0.10],[1958.6,-0.18],[1959.2,-0.21],[1960.0,-0.28],[1960.5,-0.26],[1961.0,-0.28],[1961.5,-0.30],[1962.3,-0.35],[1963.0,-0.37],[1963.9,-0.32],[1964.5,-0.40],[1965.2,-0.64],[1965.7,-0.45],[1966.2,-0.35],[1967.0,-0.40],[1967.6,-0.41],[1968.4,-0.48],[1969.4,-0.14],[1970.0,-0.18],[1970.8,-0.39],[1971.7,-0.55],[1972.3,-0.30],[1973.1,-0.08],[1973.6,-0.20],[1974.4,-0.48],[1975.0,-0.44],[1975.5,-0.44],[1976.1,-0.57],[1976.7,-0.40],[1977.4,-0.17],[1978.3,-0.19],[1979.0,-0.18],[1979.5,-0.05],[1980.2,0.08],[1981.0,0.03],[1981.4,0.05],[1982.3,-0.17],[1983.4,0.08],[1984.3,-0.19],[1985.1,-0.28],[1986.0,-0.17],[1987.1,0.06],[1988.0,0.19],[1989.2,-0.10],[1990.3,0.10],[1991.0,0.18],[1991.6,0.14],[1992.7,-0.23],[1993.3,-0.16],[1994.5,0.06],[1995.4,0.15],[1996.3,0.04],[1997.0,0.0],[1997.7,0.15],[1998.3,0.52],[1998.8,0.36],[1999.4,0.08],[2000.1,0.04],[2000.8,0.08],[2001.8,0.30],[2002.5,0.30],[2003.5,0.28],[2004.5,0.28],[2005.2,0.38],[2005.8,0.30],[2006.7,0.38],[2007.4,0.30],[2008.3,0.04],[2008.8,0.15],[2009.5,0.30],[2010.1,0.48],[2010.8,0.32],[2011.7,0.17],[2012.3,0.22],[2012.9,0.38]];
const d_RSS = [[1979.0,-0.15],[1979.5,-0.04],[1980.2,0.08],[1981.0,0.03],[1981.4,0.05],[1982.3,-0.17],[1983.4,0.10],[1984.3,-0.20],[1985.1,-0.30],[1986.0,-0.18],[1987.1,0.05],[1988.0,0.18],[1989.2,-0.10],[1990.3,0.10],[1991.0,0.20],[1992.7,-0.25],[1993.3,-0.17],[1994.5,0.05],[1995.4,0.15],[1996.3,0.03],[1997.0,0.0],[1997.7,0.15],[1998.3,0.55],[1998.8,0.36],[1999.4,0.07],[2000.1,0.05],[2000.8,0.10],[2001.8,0.28],[2002.5,0.28],[2003.5,0.26],[2004.5,0.25],[2005.2,0.35],[2005.8,0.28],[2006.7,0.36],[2007.4,0.26],[2008.3,0.03],[2008.8,0.12],[2009.5,0.30],[2010.1,0.50],[2010.8,0.30],[2011.7,0.15],[2012.3,0.18],[2012.9,0.30]];
const d_JRA25 = [[1979.0,-0.15],[1979.5,-0.02],[1980.2,0.10],[1981.0,0.05],[1981.4,0.04],[1982.3,-0.14],[1983.4,0.06],[1984.3,-0.15],[1985.1,-0.22],[1986.0,-0.14],[1987.1,0.05],[1988.0,0.17],[1989.2,-0.08],[1990.3,0.10],[1991.0,0.17],[1992.7,-0.20],[1993.3,-0.15],[1994.5,0.05],[1995.4,0.13],[1996.3,0.02],[1997.0,-0.02],[1997.7,0.12],[1998.3,0.42],[1998.8,0.28],[1999.4,-0.05],[2000.1,-0.10],[2000.8,-0.05],[2001.8,0.18],[2002.5,0.15],[2003.5,0.14],[2004.2,0.12],[2004.5,0.08],[2005.2,0.30],[2005.8,0.25],[2006.7,0.35],[2007.4,0.28],[2008.3,0.02],[2008.8,0.12],[2009.5,0.28],[2010.1,0.45],[2010.8,0.30],[2011.7,0.15],[2012.3,0.20],[2012.9,0.33]];

const fig2_xTicks = [1958,1964,1970,1976,1982,1988,1994,2000,2006,2012];
const fig2_yTickPos = [1.5,1,0.5,0,-0.5,-1,-1.5,-2,-2.5,-3,-3.5,-4,-4.5,-5,-5.5,-6];
const fig2_yTickLabels = ['1.5','1','0.5','0','-0.5','-1','0.5','0','-0.5','0.5','0','-0.5','0.5','0','-0.5','-1'];
const fig2_panelNames = ['(a)','(b)','(c)','(d)'];
const fig2_panelOffsets = [0,-2,-3.5,-5];
const fig2_seriesNames = ['NCEP/NCAR','ERA-40','JRA-25','JRA-55','HadAT2','RSS V3.3'];

// ================= CAPTIONS =================
const caption1 = ['Figure 1. RMS errors of 2-day forecasts of','the geopotential height at 500 hPa averaged','over the extratropics of the (a) Northern and','(b) Southern Hemispheres from JRA-25,','JRA-55 and JMA operational system, verified','against their own analyses. Changes in the','assimilation scheme and resolution of the','outer model are also noted. Each value','represents the average for the last 12 months.'];
const caption2 = ['Figure 2. Twelve-month running mean','temperature anomalies for the (a) lower','stratosphere, (b) upper troposphere, (c) middle','troposphere and (d) lower troposphere','averaged over 82.5°N to 82.5°S. Time series','from RSS V3.3 represents measurements by','the MSU channel 4, 3 and 2, and the lower','tropospheric extrapolations, whereas those','from HadAT2, the NCEP/NCAR reanalysis,','ERA-40, JRA-25 and JRA-55 are MSU','equivalent brightness temperatures. Anomalies','for each dataset were defined relative to their','own climatological monthly means over','1979\u20131998.'];

// ================= DRAWING =================
const SANS = "'Open Sans','Noto Sans',sans-serif";
const SERIF = "'Liberation Serif','Times New Roman',serif";
const svg = d3.select('#c');
svg.append('rect').attr('width',1344).attr('height',1208).attr('fill','#fff');

// ---------- Figure 1 ----------
const C1 = {op:'#9b9b9b', j25:'#111', j55:'#e31e24'};
const x1 = d3.scaleLinear().domain([1958.8, 2013.1]).range([104, 630]);
const panels1 = [
  {y: d3.scaleLinear().domain([0,40]).range([236,62]), grid:d3.range(5,40,5), ticks:fig1_yTicksA, name:'(a) Northern Hemisphere', op:nh_Oper, j25:nh_JRA25, j55:nh_JRA55, ann:ann_NH, mk:mk_NH, id:'p1a'},
  {y: d3.scaleLinear().domain([15,55]).range([419.5,244.5]), grid:d3.range(20,55,5), ticks:fig1_yTicksB, name:'(b) Southern Hemisphere', op:sh_Oper, j25:sh_JRA25, j55:sh_JRA55, ann:ann_SH, mk:mk_SH, id:'p1b'}
];
const g1 = svg.append('g');
panels1.forEach((p, pi) => {
  const [yb, yt] = p.y.range();
  const g = g1.append('g');
  g.append('clipPath').attr('id', p.id).append('rect').attr('x',104).attr('y',yt).attr('width',526).attr('height',yb-yt);
  g.selectAll('line.grid').data(p.grid).join('line')
    .attr('x1',104).attr('x2',630).attr('y1',d=>p.y(d)).attr('y2',d=>p.y(d))
    .attr('stroke', d => (pi===1 && (d===20||d===30)) ? '#aaa' : '#cfcfcf').attr('stroke-width',1);
  g.append('rect').attr('x',104.5).attr('y',yb-46).attr('width',178).attr('height',45.5).attr('fill','#efefef');
  g.append('text').attr('x',111).attr('y',yb-32).attr('font-family',SANS).attr('font-size',10.5).attr('fill','#333').text('Upgrade in operational system');
  g.append('path').attr('d', d3.symbol(d3.symbolTriangle, 28)()).attr('transform',`translate(121.5,${yb-22.5}) rotate(180)`).attr('fill','#888');
  g.append('text').attr('x',126).attr('y',yb-19).attr('font-family',SANS).attr('font-size',10.5).attr('fill','#333').text('outer resolution');
  g.append('path').attr('d', d3.symbol(d3.symbolTriangle, 28)()).attr('transform',`translate(121.5,${yb-9.5})`).attr('fill','none').attr('stroke','#999').attr('stroke-width',0.8);
  g.append('text').attr('x',126).attr('y',yb-6).attr('font-family',SANS).attr('font-size',10.5).attr('fill','#333').text('assimilation scheme');
  const line = d3.line().x(d=>x1(d[0])).y(d=>p.y(d[1]));
  const lg = g.append('g').attr('clip-path',`url(#${p.id})`);
  lg.append('path').datum(p.op).attr('d',line).attr('fill','none').attr('stroke',C1.op).attr('stroke-width',2.6).attr('stroke-linejoin','round');
  lg.append('path').datum(p.j25).attr('d',line).attr('fill','none').attr('stroke',C1.j25).attr('stroke-width',2.6).attr('stroke-dasharray','2.6,2.6');
  lg.append('path').datum(p.j55).attr('d',line).attr('fill','none').attr('stroke',C1.j55).attr('stroke-width',2).attr('stroke-linejoin','round');
  p.mk.forEach(m => {
    const path = g.append('path').attr('d', d3.symbol(d3.symbolTriangle, 48)());
    if (m[2]==='res') path.attr('transform',`translate(${x1(m[0])},${p.y(m[1])}) rotate(180)`).attr('fill','#8a8a8a');
    else path.attr('transform',`translate(${x1(m[0])},${p.y(m[1])})`).attr('fill','#fff').attr('fill-opacity',0.6).attr('stroke','#9a9a9a').attr('stroke-width',1);
  });
  p.ann.forEach(a => {
    g.append('text').attr('x',x1(a[0])).attr('y',p.y(a[1])).attr('font-family',SANS).attr('font-size',9.3)
      .attr('fill', a[3]==='op' ? '#9a9a9a' : C1[a[3]]).text(a[2]);
  });
  g.append('rect').attr('x',104).attr('y',yt).attr('width',526).attr('height',yb-yt).attr('fill','none').attr('stroke','#333').attr('stroke-width',1);
  fig1_xTicks.forEach(t => {
    g.append('line').attr('x1',x1(t)).attr('x2',x1(t)).attr('y1',yt).attr('y2',yt+4).attr('stroke','#333');
    g.append('line').attr('x1',x1(t)).attr('x2',x1(t)).attr('y1',yb).attr('y2',yb-4).attr('stroke','#333');
  });
  d3.range(p.y.domain()[0]+5, p.y.domain()[1], 5).forEach(v => {
    g.append('line').attr('x1',630).attr('x2',626).attr('y1',p.y(v)).attr('y2',p.y(v)).attr('stroke','#333');
  });
  g.selectAll('text.yl').data(p.ticks).join('text').attr('x',98).attr('y',d=>p.y(d)).attr('dy','0.36em')
    .attr('text-anchor','end').attr('font-family',SANS).attr('font-size',13.5).attr('fill','#222').text(d=>d);
  g.append('text').attr('transform',`translate(71,${(yb+yt)/2}) rotate(-90)`).attr('text-anchor','middle')
    .attr('font-family',SANS).attr('font-size',13.5).attr('fill','#222').text('RMSE (gpm)');
  g.append('rect').attr('x',107.5).attr('y',yt+2.5).attr('width',179).attr('height',21).attr('fill','#fff').attr('stroke','#444').attr('stroke-width',1);
  g.append('text').attr('x',111).attr('y',yt+13).attr('dy','0.36em').attr('font-family',SANS).attr('font-size',13).attr('fill','#222').text(p.name);
});
g1.selectAll('text.xl').data(fig1_xTicks).join('text').attr('x',d=>x1(d)+5).attr('y',433).attr('dy','0.36em')
  .attr('text-anchor','middle').attr('font-family',SANS).attr('font-size',13.5).attr('fill','#222').text(d=>d);
g1.append('text').attr('x',367).attr('y',453).attr('dy','0.36em').attr('text-anchor','middle').attr('font-family',SANS).attr('font-size',13.5).attr('fill','#222').text('Year');
const leg1 = [
  {x:218, x2:260, tx:271, color:C1.op, w:2.8, dash:null, label:fig1_legend[0]},
  {x:372, x2:408, tx:416, color:C1.j25, w:2.8, dash:'2.6,2.6', label:fig1_legend[1]},
  {x:520, x2:557, tx:565, color:C1.j55, w:2.6, dash:null, label:fig1_legend[2]}
];
leg1.forEach(l => {
  g1.append('line').attr('x1',l.x).attr('x2',l.x2).attr('y1',44).attr('y2',44)
    .attr('stroke',l.color).attr('stroke-width',l.w).attr('stroke-dasharray',l.dash);
  g1.append('text').attr('x',l.tx).attr('y',44).attr('dy','0.36em').attr('font-family',SANS).attr('font-size',13).attr('fill','#222').text(l.label);
});

// ---------- Figure 2 ----------
const x2 = d3.scaleLinear().domain([1958, 2013]).range([119, 637.7]);
const y2 = d3.scaleLinear().domain([-6, 1.5]).range([1065, 509]);
const g2 = svg.append('g');
g2.append('clipPath').attr('id','clip2').append('rect').attr('x',119).attr('y',509).attr('width',518.7).attr('height',556);
const S2 = {
  NCEP:  {color:'#a39d5c', w:1.4, dash:'1.4,1.6'},
  ERA40: {color:'#2c8ea2', w:1.4, dash:'1.4,1.6'},
  HadAT2:{color:'#6fbf40', w:2.6, dash:null},
  JRA55: {color:'#e8262b', w:2.2, dash:null},
  RSS:   {color:'#23509e', w:1.8, dash:'4,2.5'},
  JRA25: {color:'#111111', w:1.7, dash:'5.5,3'}
};
const panels2 = [
  {NCEP:a_NCEP, ERA40:a_ERA40, HadAT2:a_HadAT2, JRA55:a_JRA55, RSS:a_RSS, JRA25:a_JRA25},
  {NCEP:b_NCEP, ERA40:b_ERA40, HadAT2:b_HadAT2, JRA55:b_JRA55, RSS:b_RSS, JRA25:b_JRA25},
  {NCEP:c_NCEP, ERA40:c_ERA40, HadAT2:c_HadAT2, JRA55:c_JRA55, RSS:c_RSS, JRA25:c_JRA25},
  {NCEP:d_NCEP, ERA40:d_ERA40, HadAT2:d_HadAT2, JRA55:d_JRA55, RSS:d_RSS, JRA25:d_JRA25}
];
const order2 = ['NCEP','ERA40','HadAT2','JRA55','RSS','JRA25'];
fig2_panelOffsets.forEach(o => {
  g2.append('line').attr('x1',119).attr('x2',637.7).attr('y1',y2(o)).attr('y2',y2(o))
    .attr('stroke','#aaa').attr('stroke-width',1).attr('stroke-dasharray','1,2');
});
const lines2 = g2.append('g').attr('clip-path','url(#clip2)');
panels2.forEach((p, pi) => {
  const off = fig2_panelOffsets[pi];
  const line = d3.line().x(d=>x2(d[0])).y(d=>y2(d[1]+off)).curve(d3.curveCatmullRom.alpha(0.5));
  order2.forEach(k => {
    const s = S2[k];
    lines2.append('path').datum(p[k]).attr('d',line).attr('fill','none').attr('stroke',s.color)
      .attr('stroke-width',s.w).attr('stroke-dasharray',s.dash).attr('stroke-linejoin','round');
  });
  g2.append('text').attr('x',645).attr('y',y2(off)).attr('dy','0.36em').attr('font-family',SANS).attr('font-size',16).attr('fill','#222').text(fig2_panelNames[pi]);
});
g2.append('rect').attr('x',119).attr('y',509).attr('width',518.7).attr('height',556).attr('fill','none').attr('stroke','#333').attr('stroke-width',1.2);
d3.range(1958, 2014).forEach(t => {
  const major = fig2_xTicks.includes(t);
  const L = major ? 8 : 4;
  g2.append('line').attr('x1',x2(t)).attr('x2',x2(t)).attr('y1',1065).attr('y2',1065-L).attr('stroke','#333');
  g2.append('line').attr('x1',x2(t)).attr('x2',x2(t)).attr('y1',509).attr('y2',509+L).attr('stroke','#333');
});
g2.selectAll('text.xl').data(fig2_xTicks).join('text').attr('x',d=>x2(d)).attr('y',1083).attr('dy','0.36em')
  .attr('text-anchor','middle').attr('font-family',SANS).attr('font-size',16).attr('fill','#222').text(d=>d);
d3.range(0, 46).forEach(i => {
  const v = -6 + i/6;
  const major = i % 3 === 0;
  const L = major ? 7 : 4;
  g2.append('line').attr('x1',119).attr('x2',119+L).attr('y1',y2(v)).attr('y2',y2(v)).attr('stroke','#333');
  g2.append('line').attr('x1',637.7).attr('x2',637.7-L).attr('y1',y2(v)).attr('y2',y2(v)).attr('stroke','#333');
});
g2.selectAll('text.yl').data(fig2_yTickPos).join('text').attr('x',107).attr('y',d=>y2(d)).attr('dy','0.36em')
  .attr('text-anchor','end').attr('font-family',SANS).attr('font-size',16).attr('fill','#222').text((d,i)=>fig2_yTickLabels[i]);
g2.append('text').attr('transform','translate(46,768) rotate(-90)').attr('text-anchor','middle')
  .attr('font-family',SANS).attr('font-size',15).attr('fill','#222').text('Temperature anomaly (K)');
g2.append('text').attr('x',378).attr('y',1111).attr('dy','0.36em').attr('text-anchor','middle')
  .attr('font-family',SANS).attr('font-size',16).attr('fill','#222').text('Year');
const leg2 = [
  {k:'NCEP', x:180, tx:243, y:1132.5, label:fig2_seriesNames[0]},
  {k:'ERA40', x:180, tx:243, y:1151.5, label:fig2_seriesNames[1]},
  {k:'JRA25', x:351, tx:413, y:1132.5, label:fig2_seriesNames[2]},
  {k:'JRA55', x:351, tx:413, y:1151.5, label:fig2_seriesNames[3]},
  {k:'HadAT2', x:521, tx:583, y:1132.5, label:fig2_seriesNames[4]},
  {k:'RSS', x:521, tx:583, y:1151.5, label:fig2_seriesNames[5]}
];
leg2.forEach(l => {
  const s = S2[l.k];
  g2.append('line').attr('x1',l.x).attr('x2',l.x+51).attr('y1',l.y).attr('y2',l.y).attr('stroke',s.color)
    .attr('stroke-width',Math.min(s.w,2)).attr('stroke-dasharray',s.dash);
  g2.append('text').attr('x',l.tx).attr('y',l.y).attr('dy','0.36em').attr('font-family',SANS).attr('font-size',14).attr('fill','#222').text(l.label);
});

// ---------- Captions (justified) ----------
function justify(lines, x0, x1p, y0, dy, size) {
  const g = svg.append('g').attr('font-family',SERIF).attr('font-size',size).attr('fill','#111');
  lines.forEach((ln, i) => {
    const words = ln.split(' ');
    const y = y0 + i*dy;
    const nodes = words.map(w => g.append('text').attr('y',y).text(w));
    const widths = nodes.map(n => n.node().getComputedTextLength());
    const total = d3.sum(widths);
    const last = i === lines.length-1;
    let gap = (last || words.length < 2) ? size*0.25 : (x1p - x0 - total)/(words.length-1);
    gap = Math.max(gap, size*0.2);
    let x = x0;
    nodes.forEach((n,j) => { n.attr('x', x); x += widths[j] + gap; });
  });
}
justify(caption1, 698, 1272, 89.5, 35.5, 30);
justify(caption2, 700, 1280, 544.5, 35.5, 30);
</script>
</body></html>
